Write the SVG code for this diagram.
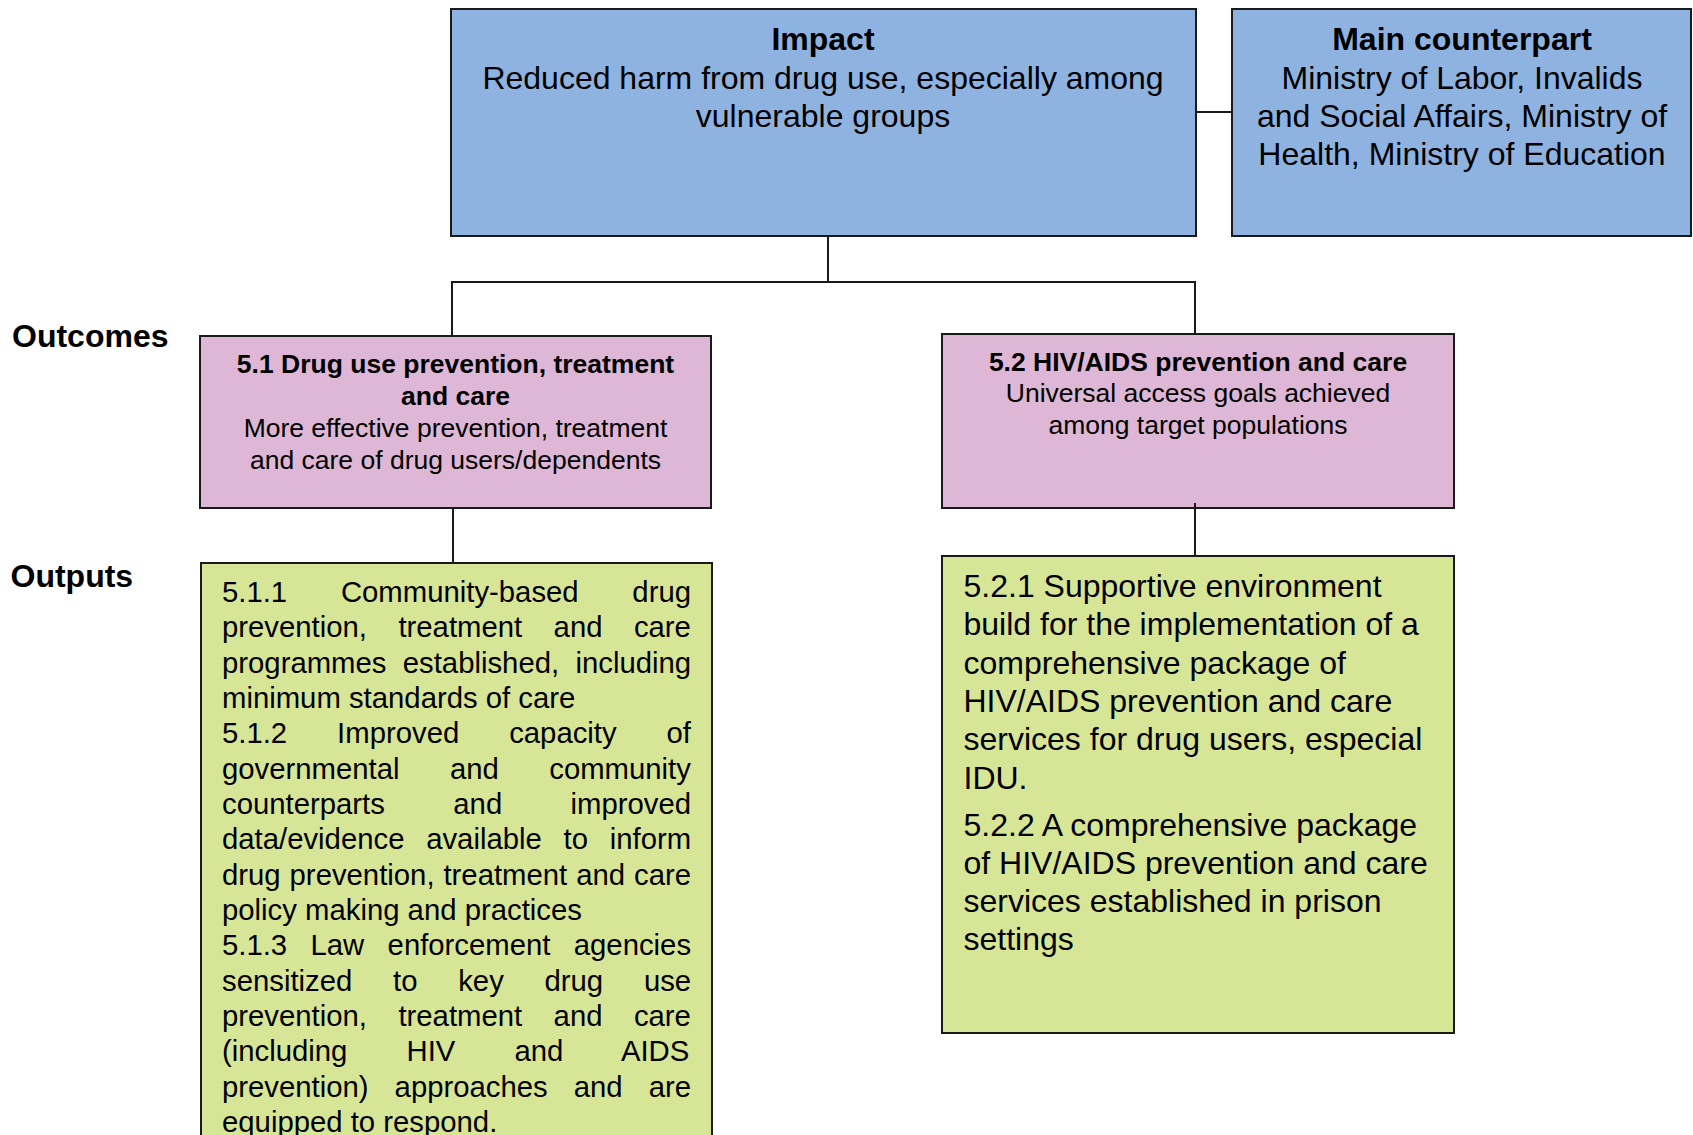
<svg xmlns="http://www.w3.org/2000/svg" width="1693" height="1135" viewBox="0 0 1693 1135">
<style>
text{font-family:"Liberation Sans",Arial,sans-serif;fill:#000}
.box{stroke:#1a1a1a;stroke-width:2}
.blue{fill:#8EB3E1}
.pink{fill:#DDB7D5}
.green{fill:#D7E597}
.conn{stroke:#1a1a1a;stroke-width:2;fill:none}
.c{text-anchor:middle}
.b{font-weight:bold}
.t32{font-size:32px}
.t26{font-size:26.5px}
.t29{font-size:29.3px}
.lbl{font-size:32px;font-weight:bold}
</style>
<rect width="1693" height="1135" fill="#fff"/>
<g id="label-outcomes"><text class="lbl" x="12" y="347">Outcomes</text></g>
<g id="label-outputs"><text class="lbl" x="10.5" y="587">Outputs</text></g>
<g id="impact">
<rect class="box blue" x="451" y="9" width="745" height="227"/>
<text class="c t32 b" x="823" y="50">Impact</text>
<text class="c t32" x="823" y="88.5">Reduced harm from drug use, especially among</text>
<text class="c t32" x="823" y="126.5">vulnerable groups</text>
</g>
<g id="counterpart">
<rect class="box blue" x="1232" y="9" width="459" height="227"/>
<text class="c t32 b" x="1462" y="50">Main counterpart</text>
<text class="c t32" x="1462" y="88.5">Ministry of Labor, Invalids</text>
<text class="c t32" x="1462" y="126.5">and Social Affairs, Ministry of</text>
<text class="c t32" x="1462" y="164.5">Health, Ministry of Education</text>
</g>
<g id="outcome-5-1">
<rect class="box pink" x="200" y="336" width="511" height="172"/>
<text class="c t26 b" x="455.5" y="373">5.1 Drug use prevention, treatment</text>
<text class="c t26 b" x="455.5" y="405">and care</text>
<text class="c t26" x="455.5" y="437">More effective prevention, treatment</text>
<text class="c t26" x="455.5" y="469">and care of drug users/dependents</text>
</g>
<g id="outcome-5-2">
<rect class="box pink" x="942" y="334" width="512" height="174"/>
<text class="c t26 b" x="1198" y="371">5.2 HIV/AIDS prevention and care</text>
<text class="c t26" x="1198" y="402">Universal access goals achieved</text>
<text class="c t26" x="1198" y="434">among target populations</text>
</g>
<g id="outputs-5-1">
<rect class="box green" x="201" y="563" width="511" height="600"/>
<text class="t29" x="222" y="602" word-spacing="45.6">5.1.1 Community-based drug</text>
<text class="t29" x="222" y="637.3" word-spacing="23.3">prevention, treatment and care</text>
<text class="t29" x="222" y="672.7" word-spacing="8.2">programmes established, including</text>
<text class="t29" x="222" y="708">minimum standards of care</text>
<text class="t29" x="222" y="743.4" word-spacing="41.8">5.1.2 Improved capacity of</text>
<text class="t29" x="222" y="778.7" word-spacing="42.3">governmental and community</text>
<text class="t29" x="222" y="814" word-spacing="60.3">counterparts and improved</text>
<text class="t29" x="222" y="849.4" word-spacing="13.6">data/evidence available to inform</text>
<text class="t29" x="222" y="884.7" word-spacing="0.8">drug prevention, treatment and care</text>
<text class="t29" x="222" y="920.1">policy making and practices</text>
<text class="t29" x="222" y="955.4" word-spacing="15.2">5.1.3 Law enforcement agencies</text>
<text class="t29" x="222" y="990.7" word-spacing="32.6">sensitized to key drug use</text>
<text class="t29" x="222" y="1026.1" word-spacing="23.3">prevention, treatment and care</text>
<text class="t29" x="222" y="1061.4" word-spacing="51">(including HIV and AIDS</text>
<text class="t29" x="222" y="1096.8" word-spacing="17.9">prevention) approaches and are</text>
<text class="t29" x="222" y="1132.1">equipped to respond.</text>
</g>
<g id="outputs-5-2">
<rect class="box green" x="942" y="556" width="512" height="477"/>
<text class="t32" x="963.5" y="597">5.2.1 Supportive environment</text>
<text class="t32" x="963.5" y="635.3">build for the implementation of a</text>
<text class="t32" x="963.5" y="673.6">comprehensive package of</text>
<text class="t32" x="963.5" y="711.9">HIV/AIDS prevention and care</text>
<text class="t32" x="963.5" y="750.2">services for drug users, especial</text>
<text class="t32" x="963.5" y="788.5">IDU.</text>
<text class="t32" x="963.5" y="836">5.2.2 A comprehensive package</text>
<text class="t32" x="963.5" y="874">of HIV/AIDS prevention and care</text>
<text class="t32" x="963.5" y="912">services established in prison</text>
<text class="t32" x="963.5" y="950">settings</text>
</g>
<g id="connectors">
<line class="conn" x1="1196" y1="112" x2="1232" y2="112"/>
<line class="conn" x1="828" y1="237" x2="828" y2="282"/>
<line class="conn" x1="451" y1="282" x2="1196" y2="282"/>
<line class="conn" x1="452" y1="281" x2="452" y2="335"/>
<line class="conn" x1="1195" y1="281" x2="1195" y2="333"/>
<line class="conn" x1="453" y1="509" x2="453" y2="562"/>
<line class="conn" x1="1195" y1="503" x2="1195" y2="555"/>
</g>
</svg>
